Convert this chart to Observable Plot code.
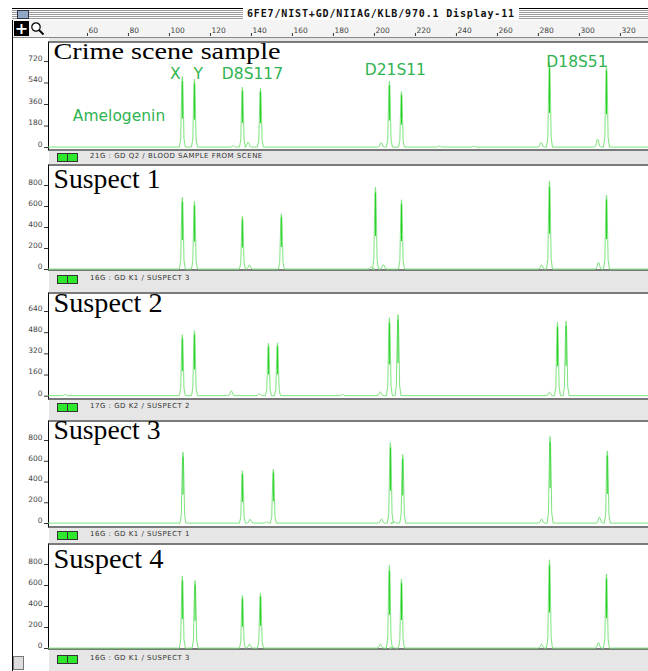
<!DOCTYPE html>
<html><head><meta charset="utf-8">
<script src="https://cdn.jsdelivr.net/npm/d3@7"></script>
<script src="https://cdn.jsdelivr.net/npm/@observablehq/plot@0.6"></script>
<style>
html,body{margin:0;padding:0}
body{width:648px;height:671px;overflow:hidden;background:#fff;position:relative;font-family:"DejaVu Sans",sans-serif}
.abs{position:absolute}
</style></head>
<body>
<script>
// ---------------- data ----------------
const rulerTicks = [60, 80, 100, 120, 140, 160, 180, 200, 220, 240, 260, 280, 300, 320];
const sampleNames = ["Crime scene sample", "Suspect 1", "Suspect 2", "Suspect 3", "Suspect 4"];
const footerLabels = [
  "21G : GD Q2 / BLOOD SAMPLE FROM SCENE",
  "16G : GD K1 / SUSPECT 3",
  "17G : GD K2 / SUSPECT 2",
  "16G : GD K1 / SUSPECT 1",
  "16G : GD K1 / SUSPECT 3"
];
const yTickValues = [
  [0, 180, 360, 540, 720],
  [0, 200, 400, 600, 800],
  [0, 160, 320, 480, 640],
  [0, 200, 400, 600, 800],
  [0, 200, 400, 600, 800]
];
// peak positions (bp) and heights (RFU), major peaks then minor stutter bumps
const crimeBp     = [106.3, 112.2, 135.6, 144.4, 207.3, 213.2, 285.4, 313.2, 131.1, 138.4, 203.3, 231.7, 248.3, 281.3, 308.9];
const crimeHeight = [594, 572, 505, 497, 555, 469, 714, 687, 15, 45, 40, 12, 10, 42, 70];
const suspect1Bp     = [106.3, 112.2, 135.6, 154.6, 200.5, 213.2, 285.4, 313.2, 139.0, 198.5, 204.4, 281.5, 309.3];
const suspect1Height = [689, 650, 508, 530, 784, 664, 841, 711, 42, 25, 45, 42, 68];
const suspect2Bp     = [106.3, 112.2, 148.3, 152.7, 207.3, 211.5, 289.3, 293.5, 49.0, 130.2, 143.9, 184.4, 202.9, 285.4];
const suspect2Height = [464, 496, 400, 403, 592, 617, 559, 567, 12, 40, 18, 12, 32, 30];
const suspect3Bp     = [106.6, 135.6, 150.7, 207.8, 213.8, 285.7, 313.6, 139.4, 147.3, 203.4, 209.6, 281.5, 309.8];
const suspect3Height = [687, 508, 523, 781, 665, 839, 701, 40, 14, 42, 15, 42, 60];
const suspect4Bp     = [106.3, 112.5, 135.6, 144.4, 207.3, 213.2, 285.4, 313.2, 139.0, 202.9, 208.9, 281.5, 309.3];
const suspect4Height = [689, 648, 505, 527, 790, 664, 845, 711, 40, 40, 15, 40, 55];
// locus annotations on the crime scene panel (bp, level)
const markerNames = ["X", "Y", "D8S117", "D21S11", "D18S51", "Amelogenin"];
const markerBp    = [102.9, 114.1, 140.5, 210.2, 298.8, 75.4];
const markerLevel = [572, 572, 572, 603, 670, 226];

const sampleBp = [crimeBp, suspect1Bp, suspect2Bp, suspect3Bp, suspect4Bp];
const sampleHeight = [crimeHeight, suspect1Height, suspect2Height, suspect3Height, suspect4Height];

// ---------------- layout ----------------
const W = 648;
const X_DOMAIN = [41, 333.7];
const panelTop = [41, 164, 292, 420, 543];
const panelH = [110, 107, 108, 108, 107];
const yDomains = [[-33, 887], [-19, 1000], [-32.5, 783.6], [-48, 993], [-19, 1000]];
const labelBase = [17, 23, 19, 18, 24];
const labelWidth = [227, 107, 109, 107, 110];
const footY = [157, 279, 407, 535, 659];
const BASE = 4;
const LIGHT = "#7ee47e";
const CORE = "#22d022";
const MARKER = "#2fb34f";

const body = document.body;
function div(css, html) {
  const d = document.createElement("div");
  d.className = "abs";
  d.style.cssText = css;
  if (html) d.innerHTML = html;
  body.appendChild(d);
  return d;
}

// window chrome
div("left:49px;top:38px;width:599px;height:633px;background:#e6e6e6");
div("left:12px;top:8px;width:1px;height:663px;background:#000");
div("left:12px;top:8px;width:636px;height:11px;border-top:1px solid #000;background:repeating-linear-gradient(to bottom,#fff 0 1px,#9a9a9a 1px 2px)");
div("left:17px;top:10px;width:10px;height:7px;background:#8fa6c4;border:1px solid #334");
div("left:243px;top:8px;height:12px;padding:0 4px;background:#fff;font:bold 10px 'DejaVu Sans Mono',monospace;letter-spacing:0.85px;line-height:12px;color:#111;white-space:nowrap", "6FE7/NIST+GD/NIIAG/KLB/970.1 Display-11");
div("left:13px;top:20px;width:635px;height:17px;background:#f4f4f4;border-bottom:1px solid #888");
div("left:14px;top:21px;width:15px;height:15px;background:#000;color:#fff;font:bold 16px 'DejaVu Sans';line-height:15px;text-align:center", "+");
div("left:30px;top:21px;width:15px;height:15px",
  '<svg width="15" height="15"><circle cx="6" cy="6" r="4.2" fill="#fff" stroke="#000" stroke-width="1.2"/><line x1="9" y1="9" x2="13.5" y2="13.5" stroke="#000" stroke-width="1.8"/></svg>');

// ruler, drawn with the same x scale as the panels
const ruler = Plot.plot({
  width: W, height: 17, marginLeft: 48, marginRight: 0, marginTop: 0, marginBottom: 0,
  x: {domain: X_DOMAIN, axis: null},
  style: {background: "transparent", overflow: "visible", fontFamily: "DejaVu Sans"},
  marks: [
    Plot.text(rulerTicks, {x: d => d, text: d => String(d), frameAnchor: "top", lineAnchor: "bottom", dy: 12, dx: 1, textAnchor: "start", fontSize: 7.5, fill: "#444"}),
    Plot.tickX(rulerTicks, {x: d => d, insetTop: 13, insetBottom: 1, stroke: "#333"})
  ]
});
const rw = div("left:0;top:20px;width:648px;height:17px");
rw.appendChild(ruler);

function peakTrace(bp, ht) {
  const idx = d3.range(bp.length).sort((a, b) => bp[a] - bp[b]);
  const pts = [{x: X_DOMAIN[0], y: BASE}];
  for (const i of idx) {
    const p = bp[i], h = ht[i], w = h > 150 ? 1.45 : 1.7, r = h - BASE;
    pts.push({x: p - w, y: BASE}, {x: p - 0.55 * w, y: BASE + 0.12 * r}, {x: p - 0.38 * w, y: BASE + 0.5 * r},
             {x: p - 0.15 * w, y: BASE + 0.93 * r}, {x: p, y: h}, {x: p + 0.15 * w, y: BASE + 0.93 * r},
             {x: p + 0.38 * w, y: BASE + 0.5 * r}, {x: p + 0.55 * w, y: BASE + 0.12 * r}, {x: p + w, y: BASE});
  }
  pts.push({x: X_DOMAIN[1], y: BASE});
  return pts;
}

sampleNames.forEach((name, i) => {
  const bp = sampleBp[i], ht = sampleHeight[i];
  const majors = bp.map((b, j) => ({bp: b, h: ht[j]})).filter(d => d.h > 150);
  const marks = [
    Plot.line(peakTrace(bp, ht), {x: "x", y: "y", stroke: LIGHT, strokeWidth: 1}),
    Plot.ruleX(majors, {x: "bp", y1: d => d.h * 0.4, y2: d => d.h * 0.93, stroke: CORE, strokeWidth: 1}),
    Plot.axisY(yTickValues[i], {anchor: "left", tickSize: 4, fill: "none", stroke: "#333", label: null}),
    Plot.axisY(yTickValues[i], {anchor: "left", tickSize: 0, tickPadding: 6, dy: -3, fontSize: 7.5, fill: "#444", label: null}),
    Plot.text([name], {frameAnchor: "top-left", lineAnchor: "bottom", dx: 5, dy: labelBase[i], fontSize: i === 0 ? 24 : 27, fontFamily: "Liberation Serif", fill: "#000", textAnchor: "start"})
  ];
  if (i === 0) {
    marks.push(Plot.text(markerNames, {x: (d, j) => markerBp[j], y: (d, j) => markerLevel[j], text: d => d, lineAnchor: "bottom", fontSize: 15.5, fill: MARKER, fontFamily: "DejaVu Sans"}));
  }
  const chart = Plot.plot({
    width: W, height: panelH[i], marginLeft: 48, marginRight: 0, marginTop: 0, marginBottom: 0,
    x: {domain: X_DOMAIN, axis: null},
    y: {domain: yDomains[i], axis: null},
    style: {background: "transparent", overflow: "visible", fontFamily: "DejaVu Sans"},
    marks
  });
  // panel frame
  div(`left:48px;top:${panelTop[i]}px;width:600px;height:${panelH[i] - 4}px;background:#fff;border-top:2px solid #7a7a7a;border-bottom:2px solid #7a7a7a;border-left:1px solid #000`);
  const holder = div(`left:0;top:${panelTop[i]}px;width:648px;height:${panelH[i]}px`);
  holder.appendChild(chart);
  chart.querySelectorAll("text").forEach(t => {
    if (t.textContent === name) { t.setAttribute("textLength", labelWidth[i]); t.setAttribute("lengthAdjust", "spacingAndGlyphs"); }
  });
  // footer
  div(`left:57px;top:${footY[i] - 4}px;width:9px;height:7px;background:#2ee82e;border:1px solid #333`);
  div(`left:67px;top:${footY[i] - 4}px;width:9px;height:7px;background:#2ee82e;border:1px solid #333`);
  const f = div(`left:90px;top:${footY[i] - 5}px;font:7px 'DejaVu Sans',sans-serif;color:#333;letter-spacing:0.5px;white-space:nowrap;line-height:9px`);
  f.textContent = footerLabels[i];
});
div("left:13px;top:656px;width:9px;height:12px;background:#ddd;border:1px solid #777");
</script>
</body></html>
